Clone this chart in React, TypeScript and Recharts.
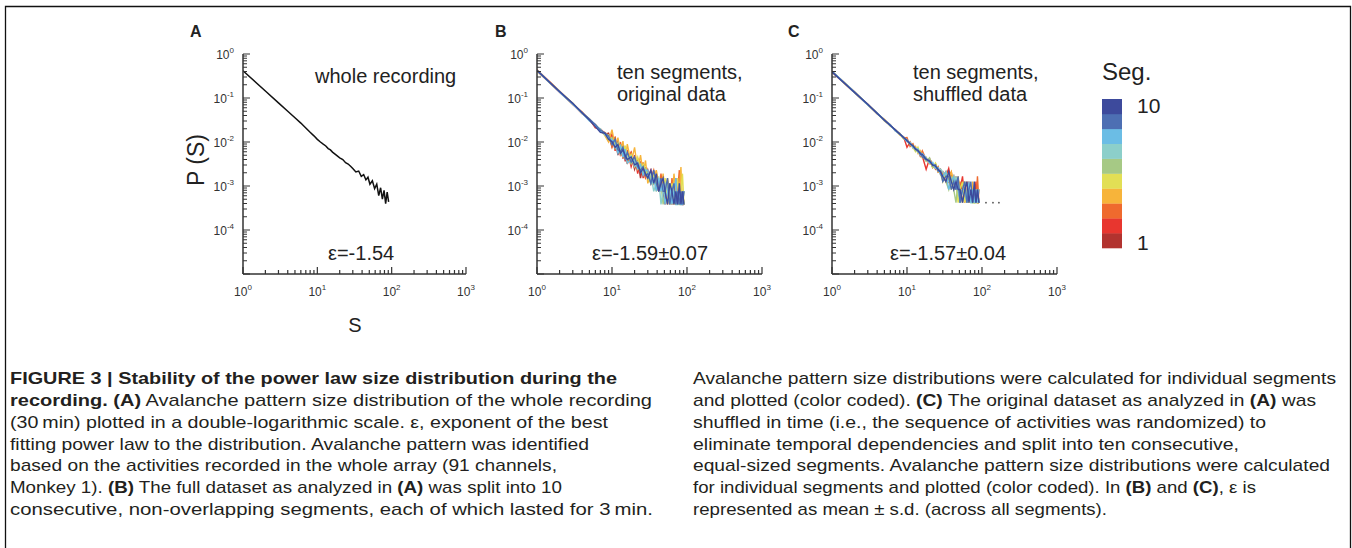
import React from 'react';
import { LineChart, Line, XAxis, YAxis } from 'recharts';

// avalanche size S, shared grid for every curve
const sizes = [1, 2, 3, 4, 5, 6, 7, 8, 9, 10, 11, 12, 13, 14, 15, 16, 18, 20, 22, 24, 26, 28, 30, 33, 36, 39, 42, 45, 48, 51, 55, 59, 63, 67, 71, 75, 79, 83, 87, 91];

// panel A, whole recording, log10 P(S)
const wholeLogP = [-0.38, -0.84, -1.11, -1.3, -1.45, -1.57, -1.68, -1.78, -1.86, -1.94, -2.0, -2.05, -2.09, -2.15, -2.18, -2.23, -2.3, -2.36, -2.4, -2.47, -2.5, -2.55, -2.6, -2.68, -2.66, -2.78, -2.74, -2.86, -2.8, -2.96, -2.88, -3.06, -2.96, -3.22, -3.04, -3.3, -3.1, -3.4, -3.14, -3.36];

// panel B, ten segments of the original data, log10 P(S)
const origSeg1 = [-0.37, -0.85, -1.13, -1.33, -1.5, -1.66, -1.71, -1.83, -1.8, -2.1, -1.92, -2.3, -2.05, -2.38, -2.12, -2.45, -2.24, -2.62, -2.4, -2.82, -2.52, -2.82, -2.64, -2.94, -2.72, -2.94, -3.12, -2.82, -3.12, -3.42, -2.94, -3.12, -3.42, -3.12, -3.42, -3.12, -3.42, -3.12, -3.42, -3.42];
const origSeg2 = [-0.38, -0.87, -1.14, -1.36, -1.48, -1.68, -1.7, -1.8, -1.98, -1.82, -2.2, -1.96, -2.32, -2.08, -2.44, -2.18, -2.56, -2.3, -2.72, -2.44, -2.82, -2.57, -2.82, -2.64, -2.94, -2.82, -2.94, -3.12, -2.82, -3.12, -3.42, -2.94, -3.12, -3.42, -2.82, -3.42, -3.12, -3.42, -3.12, -3.42];
const origSeg3 = [-0.36, -0.84, -1.15, -1.32, -1.51, -1.6, -1.75, -1.78, -1.85, -2.12, -1.88, -2.24, -2.0, -2.36, -2.1, -2.5, -2.22, -2.6, -2.36, -2.72, -2.46, -2.82, -2.72, -2.82, -2.64, -2.94, -3.12, -2.72, -3.12, -2.94, -3.12, -3.42, -2.82, -3.12, -3.42, -3.12, -2.64, -3.42, -3.12, -3.42];
const origSeg4 = [-0.39, -0.86, -1.12, -1.35, -1.47, -1.63, -1.73, -1.85, -2.0, -1.72, -2.1, -1.9, -2.25, -1.98, -2.4, -2.05, -2.48, -2.12, -2.64, -2.3, -2.72, -2.42, -2.94, -2.72, -2.82, -2.64, -2.94, -3.12, -2.72, -3.12, -2.82, -3.12, -3.42, -2.72, -3.12, -3.42, -3.12, -2.57, -3.42, -3.12];
const origSeg5 = [-0.38, -0.85, -1.12, -1.34, -1.49, -1.62, -1.74, -1.81, -1.84, -2.05, -1.98, -2.2, -2.12, -2.3, -2.08, -2.42, -2.28, -2.52, -2.34, -2.68, -2.5, -2.64, -2.82, -2.94, -2.72, -3.12, -2.82, -2.94, -3.12, -2.82, -3.42, -3.12, -2.94, -3.42, -3.12, -2.82, -3.42, -3.12, -2.72, -3.42];
const origSeg6 = [-0.37, -0.86, -1.14, -1.33, -1.5, -1.61, -1.72, -1.82, -1.95, -1.9, -2.15, -2.02, -2.28, -2.14, -2.35, -2.26, -2.5, -2.38, -2.62, -2.5, -2.72, -2.6, -2.72, -2.82, -2.94, -2.82, -3.12, -2.94, -3.42, -3.12, -2.94, -3.42, -3.12, -3.12, -3.42, -3.12, -3.42, -3.42, -3.12, -3.42];
const origSeg7 = [-0.38, -0.85, -1.13, -1.35, -1.49, -1.64, -1.7, -1.84, -1.88, -2.02, -2.1, -2.14, -2.08, -2.32, -2.22, -2.38, -2.32, -2.56, -2.46, -2.64, -2.58, -2.72, -2.82, -2.72, -3.12, -2.94, -2.82, -3.42, -3.12, -2.94, -3.12, -3.42, -3.12, -2.94, -3.42, -3.42, -3.12, -3.42, -3.12, -3.42];
const origSeg8 = [-0.37, -0.87, -1.14, -1.34, -1.52, -1.62, -1.76, -1.81, -1.92, -1.96, -2.0, -2.26, -2.1, -2.34, -2.16, -2.48, -2.4, -2.44, -2.6, -2.52, -2.76, -2.64, -2.64, -2.94, -2.82, -3.12, -2.82, -3.12, -2.94, -3.42, -3.12, -2.94, -3.42, -3.12, -2.82, -3.42, -3.12, -3.42, -3.42, -3.12];
const origSeg9 = [-0.38, -0.86, -1.13, -1.33, -1.48, -1.6, -1.73, -1.79, -1.86, -2.06, -1.94, -2.18, -2.22, -2.12, -2.38, -2.24, -2.46, -2.34, -2.56, -2.64, -2.56, -2.76, -2.72, -2.94, -2.64, -2.94, -3.12, -2.82, -3.12, -3.12, -2.82, -3.42, -3.12, -2.94, -3.42, -3.12, -3.42, -3.12, -3.42, -3.12];
const origSeg10 = [-0.37, -0.85, -1.12, -1.34, -1.5, -1.65, -1.78, -1.8, -1.94, -1.99, -2.12, -2.06, -2.26, -2.18, -2.3, -2.4, -2.34, -2.52, -2.48, -2.7, -2.6, -2.72, -2.82, -2.64, -2.94, -2.72, -3.12, -2.94, -2.82, -3.12, -3.42, -2.94, -3.12, -3.42, -3.12, -3.42, -2.94, -3.42, -3.12, -3.42];

// panel C, ten segments of the shuffled data, log10 P(S)
const shufSeg1 = [-0.4, -0.87, -1.16, -1.34, -1.51, -1.62, -1.74, -1.81, -1.92, -1.96, -2.06, -2.08, -2.18, -2.16, -2.28, -2.26, -2.42, -2.4, -2.58, -2.5, -2.68, -2.62, -2.78, -2.68, -2.9, -2.78, -3.08, -2.9, -3.08, -3.38, -2.9, -3.08, -3.38, -3.08, -3.38, -3.08, -3.38, -3.08, -3.38, -3.38];
const shufSeg2 = [-0.41, -0.88, -1.14, -1.36, -1.49, -1.63, -1.72, -1.83, -1.88, -2.12, -2.0, -2.12, -2.14, -2.22, -2.24, -2.32, -2.62, -2.38, -2.5, -2.56, -2.62, -2.7, -2.68, -2.78, -2.6, -2.9, -2.78, -3.08, -2.9, -3.08, -2.78, -3.38, -3.08, -2.9, -3.38, -3.08, -3.38, -2.9, -3.38, -3.08];
const shufSeg3 = [-0.4, -0.86, -1.15, -1.35, -1.5, -1.61, -1.75, -1.8, -1.91, -1.9, -2.1, -2.04, -2.18, -2.2, -2.32, -2.2, -2.4, -2.48, -2.48, -2.62, -2.56, -2.74, -2.68, -2.9, -2.78, -2.68, -3.08, -2.78, -3.08, -2.9, -3.38, -3.08, -2.9, -3.38, -3.08, -3.38, -3.08, -3.38, -2.78, -3.38];
const shufSeg4 = [-0.39, -0.87, -1.16, -1.34, -1.52, -1.62, -1.73, -1.84, -1.89, -1.98, -2.0, -2.14, -2.1, -2.26, -2.2, -2.36, -2.34, -2.5, -2.52, -2.54, -2.68, -2.64, -2.78, -2.78, -2.9, -2.68, -2.9, -3.08, -2.78, -3.08, -3.08, -2.9, -3.38, -3.08, -3.38, -2.9, -3.38, -3.08, -3.38, -3.08];
const shufSeg5 = [-0.4, -0.88, -1.15, -1.35, -1.49, -1.64, -1.72, -1.82, -1.93, -1.95, -2.04, -2.12, -2.22, -2.12, -2.26, -2.32, -2.42, -2.4, -2.58, -2.48, -2.64, -2.72, -2.9, -2.68, -2.78, -3.08, -2.78, -2.9, -3.38, -3.08, -2.9, -3.38, -3.08, -3.38, -3.08, -3.38, -3.38, -3.08, -3.38, -3.38];
const shufSeg6 = [-0.41, -0.87, -1.14, -1.36, -1.51, -1.62, -1.74, -1.81, -1.9, -1.97, -2.06, -2.07, -2.2, -2.18, -2.24, -2.3, -2.44, -2.36, -2.56, -2.58, -2.6, -2.7, -2.78, -2.9, -3.08, -2.78, -3.08, -3.38, -2.9, -3.08, -3.38, -3.08, -3.38, -3.08, -3.38, -3.08, -3.38, -3.38, -3.08, -3.38];
const shufSeg7 = [-0.4, -0.86, -1.15, -1.34, -1.5, -1.63, -1.73, -1.83, -1.89, -1.96, -2.03, -2.11, -2.14, -2.24, -2.26, -2.3, -2.38, -2.46, -2.5, -2.56, -2.66, -2.62, -2.68, -2.78, -2.9, -2.9, -3.08, -2.78, -3.08, -3.38, -3.08, -2.9, -3.38, -3.08, -3.38, -3.38, -3.08, -3.38, -3.08, -3.38];
const shufSeg8 = [-0.39, -0.87, -1.16, -1.35, -1.5, -1.61, -1.75, -1.82, -1.91, -1.99, -2.01, -2.13, -2.16, -2.16, -2.3, -2.26, -2.36, -2.48, -2.46, -2.6, -2.58, -2.74, -2.78, -2.68, -3.08, -2.9, -2.78, -3.08, -2.9, -3.38, -3.08, -3.08, -3.38, -2.9, -3.38, -3.08, -3.38, -3.08, -3.38, -3.08];
const shufSeg9 = [-0.4, -0.88, -1.15, -1.34, -1.51, -1.63, -1.72, -1.81, -1.9, -1.95, -2.05, -2.09, -2.15, -2.21, -2.24, -2.34, -2.4, -2.42, -2.54, -2.52, -2.66, -2.66, -2.9, -2.78, -2.78, -3.08, -2.9, -3.08, -2.78, -3.38, -3.08, -2.9, -3.38, -3.08, -2.9, -3.38, -3.08, -3.38, -3.08, -3.38];
const shufSeg10 = [-0.41, -0.87, -1.14, -1.35, -1.5, -1.62, -1.73, -1.82, -1.9, -1.97, -2.04, -2.08, -2.17, -2.19, -2.27, -2.28, -2.39, -2.44, -2.52, -2.55, -2.62, -2.68, -2.78, -2.9, -2.68, -2.9, -3.08, -2.9, -3.08, -3.08, -3.38, -3.08, -2.9, -3.38, -3.08, -3.38, -2.9, -3.38, -3.08, -3.38];

// single-event points beyond S=100 in panel C
const shufExtraSizes = [113, 140, 168];
const shufExtraLogP = [-3.38, -3.38, -3.38];

const origSegs = [origSeg1, origSeg2, origSeg3, origSeg4, origSeg5, origSeg6, origSeg7, origSeg8, origSeg9, origSeg10];
const shufSegs = [shufSeg1, shufSeg2, shufSeg3, shufSeg4, shufSeg5, shufSeg6, shufSeg7, shufSeg8, shufSeg9, shufSeg10];

// segment 1 .. 10
const segColors = ['#b2332f', '#e8362f', '#ef6a2e', '#f7b43a', '#e2df55', '#a6c985', '#8ccfca', '#6bbde5', '#4d6fb3', '#3d4a9c'];

const xDecades = [1, 10, 100, 1000];
const yDecades = [1e-5, 1e-4, 1e-3, 1e-2, 1e-1, 1];
const minorSteps = [2, 3, 4, 5, 6, 7, 8, 9];
const yLabelled = [1e-4, 1e-3, 1e-2, 1e-1, 1];

const withMinors = (decades: number[]) =>
  decades.flatMap((d, i) => (i < decades.length - 1 ? [d, ...minorSteps.map((m) => m * d)] : [d]));
const xTicks = withMinors(xDecades);
const yTicks = withMinors(yDecades);

const isIn = (list: number[], v: number) => list.some((d) => Math.abs(d - v) / d < 1e-6);

const AXIS = '#333';
const SANS = "'Liberation Sans', Arial, Helvetica, sans-serif";

const segTable = (segs: number[][]) =>
  sizes.map((s, i) => {
    const row: Record<string, number> = { s };
    segs.forEach((seg, k) => {
      row[`seg${k + 1}`] = Math.pow(10, seg[i]);
    });
    return row;
  });

const wholeData = sizes.map((s, i) => ({ s, p: Math.pow(10, wholeLogP[i]) }));
const origData = segTable(origSegs);
const shufData = [
  ...segTable(shufSegs),
  ...shufExtraSizes.map((s, i) => ({ s, extra: Math.pow(10, shufExtraLogP[i]) })),
];

function XTick(props: any) {
  const { x, y, payload } = props;
  const v = payload.value;
  const major = isIn(xDecades, v);
  return (
    <g>
      <line x1={x} x2={x} y1={y} y2={y - (major ? 7 : 4)} stroke={AXIS} strokeWidth={1.2} />
      {major && (
        <text x={x} y={y + 22} textAnchor="middle" fontFamily={SANS} fontSize={12} fill="#333">
          10
          <tspan dy={-6} fontSize={8}>
            {Math.round(Math.log10(v))}
          </tspan>
        </text>
      )}
    </g>
  );
}

function YTick(props: any) {
  const { x, y, payload } = props;
  const v = payload.value;
  const major = isIn(yDecades, v);
  return (
    <g>
      <line x1={x} x2={x + (major ? 7 : 4)} y1={y} y2={y} stroke={AXIS} strokeWidth={1} />
      {isIn(yLabelled, v) && (
        <text x={x - 9} y={y + 4.5} textAnchor="end" fontFamily={SANS} fontSize={12} fill="#333">
          10
          <tspan dy={-6} fontSize={8}>
            {Math.round(Math.log10(v))}
          </tspan>
        </text>
      )}
    </g>
  );
}

function Panel({ data, plotWidth, children }: { data: any[]; plotWidth: number; children: React.ReactNode }) {
  return (
    <LineChart width={40 + plotWidth + 20} height={280} data={data} margin={{ top: 20, right: 20, left: 0, bottom: 0 }}>
      <XAxis
        dataKey="s"
        type="number"
        scale="log"
        domain={[1, 1000]}
        ticks={xTicks}
        interval={0}
        allowDataOverflow
        height={40}
        tickSize={0}
        tickMargin={0}
        tickLine={false}
        axisLine={{ stroke: AXIS, strokeWidth: 1.5 }}
        tick={XTick}
      />
      <YAxis
        type="number"
        scale="log"
        domain={[1e-5, 1]}
        ticks={yTicks}
        interval={0}
        allowDataOverflow
        width={40}
        tickSize={0}
        tickMargin={0}
        tickLine={false}
        axisLine={{ stroke: AXIS, strokeWidth: 1.5 }}
        tick={YTick}
      />
      {children}
    </LineChart>
  );
}

const captionLeft: [string, boolean][][] = [
  [['FIGURE 3 | Stability of the power law size distribution during the', true]],
  [['recording.', true], [' ', false], ['(A)', true], [' Avalanche pattern size distribution of the whole recording', false]],
  [['(30\u2009min) plotted in a double-logarithmic scale. \u03b5, exponent of the best', false]],
  [['fitting power law to the distribution. Avalanche pattern was identified', false]],
  [['based on the activities recorded in the whole array (91 channels,', false]],
  [['Monkey 1). ', false], ['(B)', true], [' The full dataset as analyzed in ', false], ['(A)', true], [' was split into 10', false]],
  [['consecutive, non-overlapping segments, each of which lasted for 3\u2009min.', false]],
];
const captionLeftEnds = [617, 652, 608, 589, 557, 562, 653];

const captionRight: [string, boolean][][] = [
  [['Avalanche pattern size distributions were calculated for individual segments', false]],
  [['and plotted (color coded). ', false], ['(C)', true], [' The original dataset as analyzed in ', false], ['(A)', true], [' was', false]],
  [['shuffled in time (i.e., the sequence of activities was randomized) to', false]],
  [['eliminate temporal dependencies and split into ten consecutive,', false]],
  [['equal-sized segments. Avalanche pattern size distributions were calculated', false]],
  [['for individual segments and plotted (color coded). In ', false], ['(B)', true], [' and ', false], ['(C)', true], [', \u03b5 is', false]],
  [['represented as mean \u00b1 s.d. (across all segments).', false]],
];
const captionRightEnds = [1336, 1316, 1266, 1239, 1330, 1256, 1107];

const CAPTION_FONT = "'Liberation Sans Narrow', 'Arial Narrow', 'Liberation Sans', Arial, sans-serif";

function CaptionBlock({ lines, ends, left }: { lines: [string, boolean][][]; ends: number[]; left: number }) {
  return (
    <>
      {lines.map((line, i) => (
        <text
          key={i}
          x={left}
          y={384 + i * 21.85}
          textLength={ends[i] - left}
          lengthAdjust="spacingAndGlyphs"
          fontFamily={CAPTION_FONT}
          fontSize={17}
          fill="#231f20"
          style={{ whiteSpace: 'pre' }}
        >
          {line.map(([t, bold], k) => (
            <tspan key={k} fontWeight={bold ? 700 : 400}>
              {t}
            </tspan>
          ))}
        </text>
      ))}
    </>
  );
}

export default function App() {
  return (
    <div style={{ position: 'absolute', left: 0, top: 0, width: 1352, height: 548, background: '#fff', overflow: 'hidden' }}>
      <div style={{ position: 'absolute', left: 203, top: 34 }}>
        <Panel data={wholeData} plotWidth={223}>
          <Line dataKey="p" stroke="#111" strokeWidth={1.5} dot={false} isAnimationActive={false} />
        </Panel>
      </div>
      <div style={{ position: 'absolute', left: 497, top: 34 }}>
        <Panel data={origData} plotWidth={225}>
          {segColors.map((c, k) => (
            <Line key={k} dataKey={`seg${k + 1}`} stroke={c} strokeWidth={1.4} dot={false} isAnimationActive={false} />
          ))}
        </Panel>
      </div>
      <div style={{ position: 'absolute', left: 792, top: 34 }}>
        <Panel data={shufData} plotWidth={225}>
          {segColors.map((c, k) => (
            <Line key={k} dataKey={`seg${k + 1}`} stroke={c} strokeWidth={1.4} dot={false} isAnimationActive={false} />
          ))}
          <Line dataKey="extra" stroke="none" dot={{ r: 0.9, fill: '#555', stroke: 'none' }} isAnimationActive={false} />
        </Panel>
      </div>

      <svg width={1352} height={548} style={{ position: 'absolute', left: 0, top: 0, pointerEvents: 'none' }}>
        {/* frame */}
        <path d="M5.5 548 V6.5 H1350.5 V548" fill="none" stroke="#111" strokeWidth={1.3} />

        <g fontFamily={SANS} fill="#222">
          <text x={190} y={37} fontSize={16} fontWeight={700}>A</text>
          <text x={495} y={37} fontSize={16} fontWeight={700}>B</text>
          <text x={788} y={37} fontSize={16} fontWeight={700}>C</text>

          <text x={0} y={0} fontSize={23} textAnchor="middle" transform="translate(204 160) rotate(-90)">P (S)</text>
          <text x={355} y={332} fontSize={20} textAnchor="middle">S</text>

          <text x={315} y={83} fontSize={20}>whole recording</text>
          <text x={617} y={79} fontSize={20}>ten segments,</text>
          <text x={617} y={101} fontSize={20}>original data</text>
          <text x={913} y={79} fontSize={20}>ten segments,</text>
          <text x={913} y={101} fontSize={20}>shuffled data</text>

          <text x={328} y={260} fontSize={20}>ε=-1.54</text>
          <text x={592} y={260} fontSize={20}>ε=-1.59±0.07</text>
          <text x={890} y={260} fontSize={20}>ε=-1.57±0.04</text>

          <text x={1102} y={80} fontSize={24}>Seg.</text>
          <text x={1137} y={113} fontSize={21}>10</text>
          <text x={1137} y={250} fontSize={21}>1</text>
        </g>
        {segColors.map((c, k) => (
          <rect key={k} x={1102} y={99 + (9 - k) * 14.9} width={20} height={15.2} fill={c} />
        ))}

        <CaptionBlock lines={captionLeft} ends={captionLeftEnds} left={10} />
        <CaptionBlock lines={captionRight} ends={captionRightEnds} left={693} />
      </svg>
    </div>
  );
}
